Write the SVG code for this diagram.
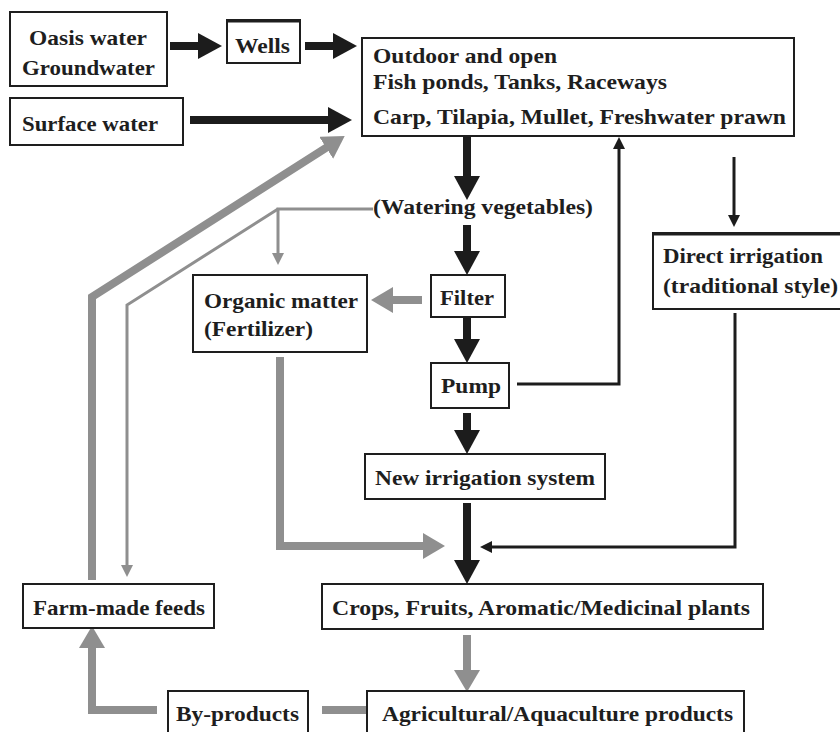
<svg xmlns="http://www.w3.org/2000/svg" width="840" height="732" viewBox="0 0 840 732">
<style>
.box{fill:#fff;stroke:#1e1e1e;stroke-width:2}
text{font-family:'Liberation Serif','Times New Roman','DejaVu Serif',serif;font-weight:bold;font-size:21px;fill:#1e1e1e}
.bk{fill:none;stroke:#1c1c1c;stroke-width:8}
.bt{fill:none;stroke:#1c1c1c;stroke-width:3}
.gk{fill:none;stroke:#8f8f8f;stroke-width:8}
.gt{fill:none;stroke:#8f8f8f;stroke-width:3}
</style>
<defs>
<marker id="mbk" markerUnits="userSpaceOnUse" markerWidth="24" markerHeight="26" refX="12" refY="13" orient="auto"><path d="M0,0 L24,13 L0,26 Z" fill="#1c1c1c"/></marker>
<marker id="mbt" markerUnits="userSpaceOnUse" markerWidth="12" markerHeight="12" refX="6" refY="6" orient="auto"><path d="M0,0 L12,6 L0,12 Z" fill="#1c1c1c"/></marker>
<marker id="mgk" markerUnits="userSpaceOnUse" markerWidth="22" markerHeight="26" refX="10" refY="13" orient="auto"><path d="M0,0 L22,13 L0,26 Z" fill="#8f8f8f"/></marker>
<marker id="mgt" markerUnits="userSpaceOnUse" markerWidth="12" markerHeight="12" refX="6" refY="6" orient="auto"><path d="M0,0 L12,6 L0,12 Z" fill="#8f8f8f"/></marker>
</defs>
<rect width="840" height="732" fill="#fff"/>

<g id="connectors">
<path class="bk" d="M170,46 H210" marker-end="url(#mbk)"/>
<path class="bk" d="M305,46 H345" marker-end="url(#mbk)"/>
<path class="bk" d="M190,120 H340" marker-end="url(#mbk)"/>
<path class="bk" d="M467,137 V188" marker-end="url(#mbk)"/>
<path class="bk" d="M467,225 V263" marker-end="url(#mbk)"/>
<path class="bk" d="M467,318 V351" marker-end="url(#mbk)"/>
<path class="bk" d="M467,413 V442" marker-end="url(#mbk)"/>
<path class="bk" d="M467,503 V572" marker-end="url(#mbk)"/>
<path class="bt" d="M517,384 H619 V143" marker-end="url(#mbt)"/>
<path class="bt" d="M734,157 V221" marker-end="url(#mbt)"/>
<path class="bt" d="M735,313 V547 H486" marker-end="url(#mbt)"/>
<path class="gk" d="M422,300 H383" marker-end="url(#mgk)"/>
<path class="gk" d="M280,357 V546 H433" marker-end="url(#mgk)"/>
<path class="gk" d="M92,580 V297 L334.6,142.4" marker-end="url(#mgk)"/>
<path class="gk" d="M467,635 V680" marker-end="url(#mgk)"/>
<path class="gk" d="M367,710 H322"/>
<path class="gk" d="M157,710 H92 V638" marker-end="url(#mgk)"/>
<path class="gt" d="M373,209 H278 V259" marker-end="url(#mgt)"/>
<path class="gt" d="M278,209 L127,305 V571" marker-end="url(#mgt)"/>
</g>

<g id="oasis">
<rect class="box" x="10" y="12" width="157" height="74"/>
<text x="29" y="45" textLength="118" lengthAdjust="spacingAndGlyphs">Oasis water</text>
<text x="22" y="75" textLength="133" lengthAdjust="spacingAndGlyphs">Groundwater</text>
</g>
<g id="wells">
<rect class="box" x="227" y="20" width="73" height="43"/>
<line x1="227" y1="21" x2="300" y2="21" stroke="#1e1e1e" stroke-width="3"/>
<text x="235" y="53" textLength="55" lengthAdjust="spacingAndGlyphs">Wells</text>
</g>
<g id="surface">
<rect class="box" x="10" y="98" width="173" height="47"/>
<text x="22" y="131" textLength="136" lengthAdjust="spacingAndGlyphs">Surface water</text>
</g>
<g id="outdoor">
<rect class="box" x="362" y="38" width="432" height="98"/>
<text x="373" y="63" textLength="184" lengthAdjust="spacingAndGlyphs">Outdoor and open</text>
<text x="373" y="89" textLength="294" lengthAdjust="spacingAndGlyphs">Fish ponds, Tanks, Raceways</text>
<text x="373" y="124" textLength="413" lengthAdjust="spacingAndGlyphs">Carp, Tilapia, Mullet, Freshwater prawn</text>
</g>
<g id="watering">
<text x="373" y="214" textLength="220" lengthAdjust="spacingAndGlyphs">(Watering vegetables)</text>
</g>
<g id="direct">
<rect class="box" x="653" y="233" width="190" height="76"/>
<line x1="653" y1="234" x2="843" y2="234" stroke="#1e1e1e" stroke-width="3"/>
<text x="663" y="263" textLength="160" lengthAdjust="spacingAndGlyphs">Direct irrigation</text>
<text x="663" y="293" textLength="175" lengthAdjust="spacingAndGlyphs">(traditional style)</text>
</g>
<g id="organic">
<rect class="box" x="193" y="275" width="174" height="77"/>
<text x="204" y="308" textLength="154" lengthAdjust="spacingAndGlyphs">Organic matter</text>
<text x="204" y="336" textLength="109" lengthAdjust="spacingAndGlyphs">(Fertilizer)</text>
</g>
<g id="filter">
<rect class="box" x="431" y="275" width="74" height="42"/>
<text x="440" y="305" textLength="54" lengthAdjust="spacingAndGlyphs">Filter</text>
</g>
<g id="pump">
<rect class="box" x="431" y="363" width="78" height="45"/>
<text x="441" y="393" textLength="60" lengthAdjust="spacingAndGlyphs">Pump</text>
</g>
<g id="newirrigation">
<rect class="box" x="365" y="454" width="240" height="45"/>
<text x="375" y="485" textLength="220" lengthAdjust="spacingAndGlyphs">New irrigation system</text>
</g>
<g id="crops">
<rect class="box" x="322" y="584" width="441" height="45"/>
<text x="332" y="615" textLength="418" lengthAdjust="spacingAndGlyphs">Crops, Fruits, Aromatic/Medicinal plants</text>
</g>
<g id="farmfeeds">
<rect class="box" x="23" y="584" width="191" height="44"/>
<text x="33" y="615" textLength="172" lengthAdjust="spacingAndGlyphs">Farm-made feeds</text>
</g>
<g id="byproducts">
<rect class="box" x="168" y="691" width="140" height="50"/>
<text x="176" y="721" textLength="123" lengthAdjust="spacingAndGlyphs">By-products</text>
</g>
<g id="agricultural">
<rect class="box" x="367" y="691" width="377" height="50"/>
<text x="382" y="721" textLength="351" lengthAdjust="spacingAndGlyphs">Agricultural/Aquaculture products</text>
</g>
</svg>
